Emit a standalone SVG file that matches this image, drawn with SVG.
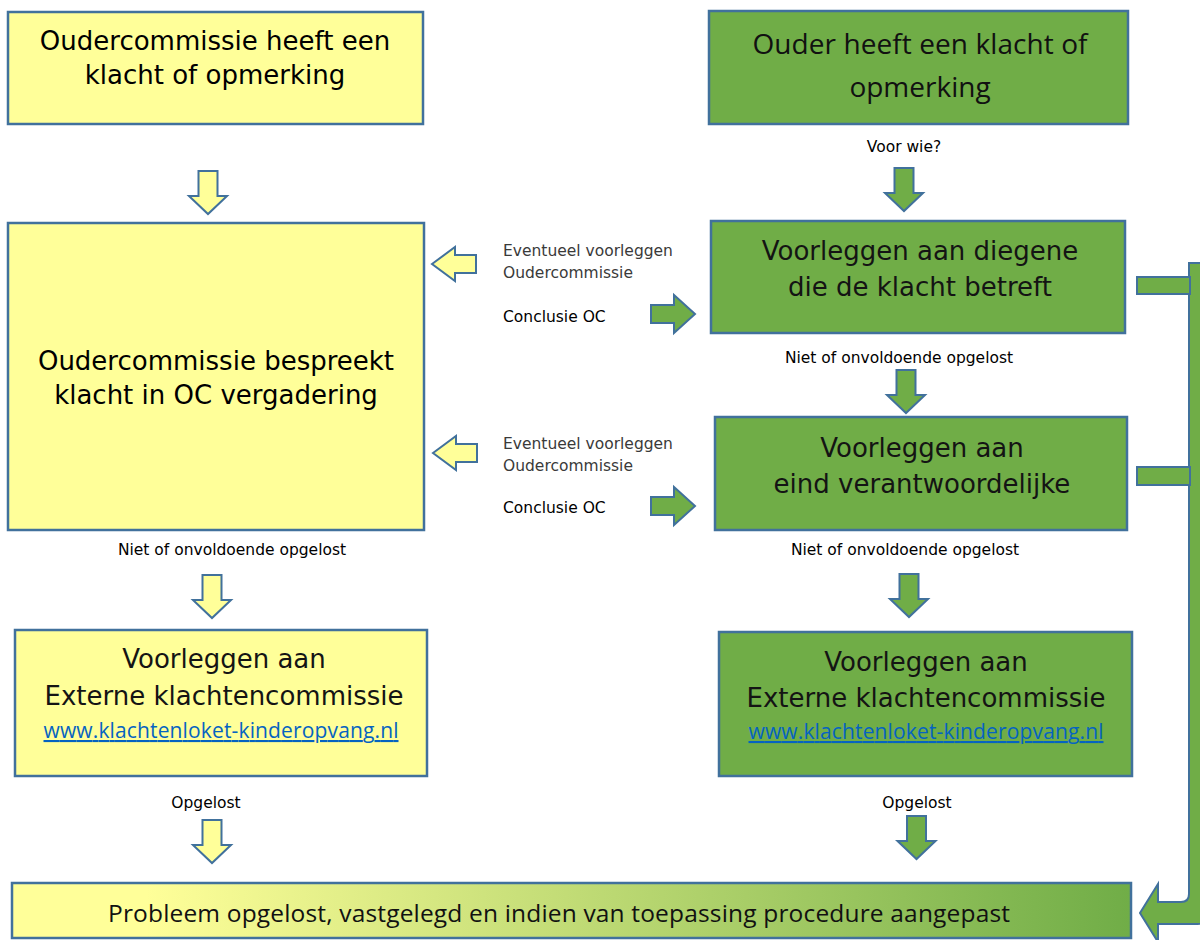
<svg xmlns="http://www.w3.org/2000/svg" width="1200" height="940" viewBox="0 0 1200 940">
<style>
.y{fill:#FFFF99;stroke:#41719C;stroke-width:2.5}
.g{fill:#70AD47;stroke:#41719C;stroke-width:2.5}
.ay{fill:#FFFF99;stroke:#41719C;stroke-width:2}
.ag{fill:#70AD47;stroke:#41719C;stroke-width:2}
.v{font-family:"DejaVu Sans",Verdana,sans-serif;font-size:26px;fill:#000;text-anchor:middle}
.vg{font-family:"DejaVu Sans",Verdana,sans-serif;font-size:26px;fill:#141414;text-anchor:middle}
.c{font-family:"Open Sans","Noto Sans",sans-serif;fill:#111;text-anchor:middle}
.s{font-family:"DejaVu Sans",Verdana,sans-serif;font-size:15.5px;fill:#000}
.sg{font-family:"DejaVu Sans",Verdana,sans-serif;font-size:15.5px;fill:#3a3a3a}
.m{text-anchor:middle}
.lnk{font-family:"Open Sans","Noto Sans",sans-serif;font-size:21px;fill:#0563C1;text-anchor:middle;text-decoration:underline}
</style>
<defs>
<path id="down" d="M-9.5,0 H9.5 V25 H19 L0,43 L-19,25 H-9.5 Z"/>
<path id="left" d="M0,0 L23,-17 V-9 H44 V9 H23 V17 Z"/>
<path id="right" d="M0,-9 H23 V-19 L44,0 L23,19 V9 H0 Z"/>
<linearGradient id="grad" x1="0" y1="0" x2="1" y2="0">
<stop offset="0" stop-color="#FFFF99"/>
<stop offset="0.12" stop-color="#FFFF99"/>
<stop offset="1" stop-color="#70AD47"/>
</linearGradient>
</defs>

<g id="connectors">
<use href="#down" class="ay" x="208" y="171"/>
<use href="#down" class="ag" x="904" y="168"/>
<use href="#down" class="ag" x="906" y="370"/>
<use href="#down" class="ay" x="212" y="575"/>
<use href="#down" class="ag" x="909" y="574"/>
<use href="#down" class="ay" x="212" y="820"/>
<use href="#down" class="ag" x="916.5" y="816"/>
<use href="#left" class="ay" x="432" y="264"/>
<use href="#left" class="ay" x="433" y="453"/>
<use href="#right" class="ag" x="651" y="314"/>
<use href="#right" class="ag" x="651" y="506"/>
<path class="ag" d="M1189,263 H1216 V903 Q1216,924 1195,924 H1158 V942 L1140,913 L1158,884 V902 H1181 Q1189,902 1189,894 Z"/>
<rect class="ag" x="1137" y="277" width="53" height="17"/>
<rect class="ag" x="1137" y="467" width="53" height="18"/>
</g>

<g id="labels">
<text class="s m" x="904" y="152">Voor wie?</text>
<text class="sg" x="503" y="256">Eventueel voorleggen</text>
<text class="sg" x="503" y="278">Oudercommissie</text>
<text class="s" x="503" y="322">Conclusie OC</text>
<text class="sg" x="503" y="449">Eventueel voorleggen</text>
<text class="sg" x="503" y="471">Oudercommissie</text>
<text class="s" x="503" y="513">Conclusie OC</text>
<text class="s m" x="899" y="363">Niet of onvoldoende opgelost</text>
<text class="s m" x="232" y="555">Niet of onvoldoende opgelost</text>
<text class="s m" x="905" y="555">Niet of onvoldoende opgelost</text>
<text class="s m" x="206" y="808">Opgelost</text>
<text class="s m" x="917" y="808">Opgelost</text>
</g>

<g id="oc-klacht">
<rect class="y" x="8" y="12" width="415" height="112"/>
<text class="v" x="215" y="50">Oudercommissie heeft een</text>
<text class="v" x="215" y="84">klacht of opmerking</text>
</g>

<g id="ouder-klacht">
<rect class="g" x="709" y="11" width="419" height="113"/>
<text class="c" x="920" y="54" font-size="28" textLength="335">Ouder heeft een klacht of</text>
<text class="c" x="920" y="97" font-size="28">opmerking</text>
</g>

<g id="oc-bespreekt">
<rect class="y" x="8" y="223" width="416" height="307"/>
<text class="v" x="216" y="370">Oudercommissie bespreekt</text>
<text class="v" x="216" y="404">klacht in OC vergadering</text>
</g>

<g id="diegene">
<rect class="g" x="711" y="221" width="414" height="112"/>
<text class="vg" x="920" y="260">Voorleggen aan diegene</text>
<text class="vg" x="920" y="296">die de klacht betreft</text>
</g>

<g id="eindverantwoordelijke">
<rect class="g" x="715" y="417" width="412" height="113"/>
<text class="vg" x="922" y="457">Voorleggen aan</text>
<text class="vg" x="922" y="493">eind verantwoordelijke</text>
</g>

<g id="extern-oc">
<rect class="y" x="15" y="630" width="412" height="146"/>
<text class="vg" x="224" y="668">Voorleggen aan</text>
<text class="vg" x="224" y="705">Externe klachtencommissie</text>
<text class="lnk" x="221" y="738" textLength="355">www.klachtenloket-kinderopvang.nl</text>
</g>

<g id="extern-ouder">
<rect class="g" x="719" y="632" width="413" height="144"/>
<text class="vg" x="926" y="671">Voorleggen aan</text>
<text class="vg" x="926" y="707">Externe klachtencommissie</text>
<text class="lnk" x="926" y="739" textLength="355">www.klachtenloket-kinderopvang.nl</text>
</g>

<g id="opgelost">
<rect x="12" y="883" width="1119" height="55" fill="url(#grad)" stroke="#41719C" stroke-width="2.5"/>
<text class="c" x="559" y="922" font-size="24.5" textLength="902">Probleem opgelost, vastgelegd en indien van toepassing procedure aangepast</text>
</g>
</svg>
